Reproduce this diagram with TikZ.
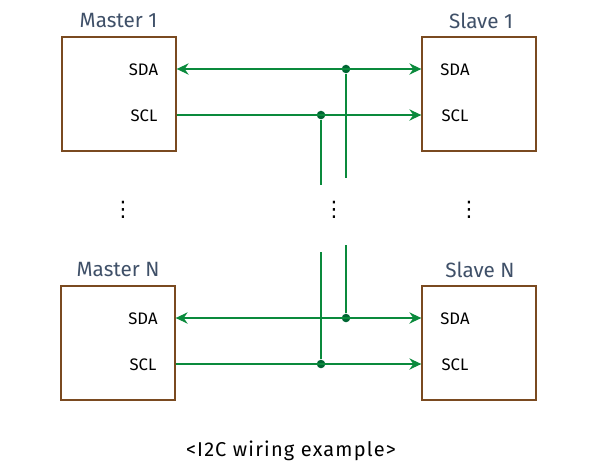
\documentclass[tikz,border=0pt]{standalone}
\usepackage{fontspec}
\setmainfont{Fira Sans}
\newfontfamily\dotsfont{DejaVu Sans}
\newfontfamily\captionfont[LetterSpace=6]{Fira Sans}
\usetikzlibrary{arrows.meta, positioning}

\definecolor{wiregreen}{HTML}{0A8A3C}
\definecolor{dotgreen}{HTML}{006633}
\definecolor{boxbrown}{HTML}{7A4A20}
\definecolor{titleblue}{HTML}{3F5068}

\tikzset{
    chipbox/.style={draw=boxbrown, line width=1pt, minimum width=85.5pt, minimum height=85.5pt, inner sep=0pt},
    chiptitle/.style={text=titleblue, font=\fontsize{15.5}{18}\selectfont, inner sep=0pt},
    pinlabel/.style={text=black, font=\fontsize{12.5}{14}\selectfont, inner sep=0pt},
    wire/.style={draw=wiregreen, line width=1pt},
    wirearrow/.style={wire, -{Stealth[inset=3pt, length=9pt, width=8.5pt]}},
    wirebiarrow/.style={wire, {Stealth[inset=3pt, length=9pt, width=8.5pt]}-{Stealth[inset=3pt, length=9pt, width=8.5pt]}},
    junction/.style={circle, fill=dotgreen, inner sep=0pt, minimum size=6.4pt},
    moredots/.style={font=\dotsfont\fontsize{16}{16}\selectfont, inner sep=0pt}
}

\begin{document}
\begin{tikzpicture}[x=0.75pt, y=-0.75pt]
    \useasboundingbox (0,0) rectangle (600,475);

    % Boxes
    \node[chipbox] (master1) at (119,94) {};
    \node[chipbox] (slave1) at (479,94) {};
    \node[chipbox] (masterN) at (118,343) {};
    \node[chipbox] (slaveN) at (479,343) {};

    % Titles
    \node[chiptitle] (master1title) at (118.5,21) {Master 1};
    \node[chiptitle] (slave1title) at (481,21) {Slave 1};
    \node[chiptitle] (masterNtitle) at (118,270) {Master N};
    \node[chiptitle] (slaveNtitle) at (480,270) {Slave N};

    % Pin labels
    \node[pinlabel] (m1sda) at (143.5,70) {SDA};
    \node[pinlabel] (m1scl) at (144,115.5) {SCL};
    \node[pinlabel] (s1sda) at (455,70) {SDA};
    \node[pinlabel] (s1scl) at (455,115.5) {SCL};
    \node[pinlabel] (mNsda) at (143,319) {SDA};
    \node[pinlabel] (mNscl) at (143,365) {SCL};
    \node[pinlabel] (sNsda) at (455,319) {SDA};
    \node[pinlabel] (sNscl) at (455,365) {SCL};

    % Junctions
    \node[junction] (sda1dot) at (346,69) {};
    \node[junction] (scl1dot) at (321,115) {};
    \node[junction] (sdaNdot) at (346,318) {};
    \node[junction] (sclNdot) at (321,364) {};

    % Free ends of the vertical wires
    \coordinate (sda1end) at (346,178);
    \coordinate (scl1end) at (321,185);
    \coordinate (sdaNend) at (346,245);
    \coordinate (sclNend) at (321,252);

    % Horizontal wires
    \draw[wirebiarrow] (master1.east |- sda1dot) -- (slave1.west |- sda1dot);
    \draw[wirearrow] (master1.east |- scl1dot) -- (slave1.west |- scl1dot);
    \draw[wirebiarrow] (masterN.east |- sdaNdot) -- (slaveN.west |- sdaNdot);
    \draw[wirearrow] (masterN.east |- sclNdot) -- (slaveN.west |- sclNdot);

    % Vertical wires
    \draw[wire] (sda1dot) -- (sda1end);
    \draw[wire] (scl1dot) -- (scl1end);
    \draw[wire] (sdaNdot) -- (sdaNend);
    \draw[wire] (sclNdot) -- (sclNend);

    % Dots between the rows
    \node[moredots] (leftdots) at (123,210) {⋮};
    \node[moredots] (middots) at (334,210) {⋮};
    \node[moredots] (rightdots) at (469,210) {⋮};

    % Caption
    \node[pinlabel, font=\captionfont\fontsize{15}{16}\selectfont] (caption) at (291,451) {<I2C wiring example>};
\end{tikzpicture}
\end{document}
